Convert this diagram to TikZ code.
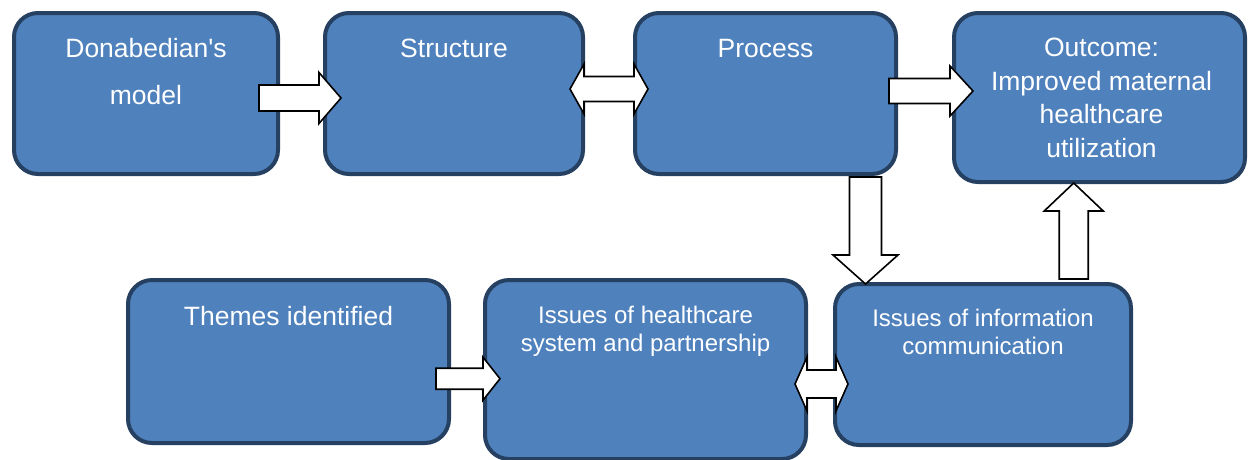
\documentclass[tikz,border=0pt]{standalone}
\usepackage{fontspec}
\setmainfont{Liberation Sans}[Ligatures=TeXOff]
\usetikzlibrary{calc}

\definecolor{boxfill}{HTML}{4F81BD}
\definecolor{boxline}{HTML}{254061}

\tikzset{
    box/.style={draw=boxline, fill=boxfill, line width=4pt, rounded corners=24pt, inner sep=0pt},
    bigtext/.style={text=white, align=center, inner sep=0pt, anchor=base, font=\fontsize{26.5}{33.5}\selectfont},
    smalltext/.style={bigtext, font=\fontsize{24}{28}\selectfont},
    fatarrow/.style={draw=black, fill=white, line width=1.6pt},
}

% tail, tip, shaft half width, head half width, head length
\newcommand\blockarrow[5]{
    \coordinate (ba-h) at ($(#2)!#5!(#1)$);
    \draw[fatarrow]
        ($(#1)!#3!90:(#2)$) -- ($(ba-h)!#3!90:(#2)$) -- ($(ba-h)!#4!90:(#2)$) -- (#2)
        -- ($(ba-h)!#4!-90:(#2)$) -- ($(ba-h)!#3!-90:(#2)$) -- ($(#1)!#3!-90:(#2)$) -- cycle;
}
\newcommand\twowayarrow[5]{
    \coordinate (ba-ha) at ($(#1)!#5!(#2)$);
    \coordinate (ba-hb) at ($(#2)!#5!(#1)$);
    \draw[fatarrow]
        (#1) -- ($(ba-ha)!#4!90:(#2)$) -- ($(ba-ha)!#3!90:(#2)$) -- ($(ba-hb)!#3!90:(#2)$)
        -- ($(ba-hb)!#4!90:(#2)$) -- (#2) -- ($(ba-hb)!#4!-90:(#2)$) -- ($(ba-hb)!#3!-90:(#2)$)
        -- ($(ba-ha)!#3!-90:(#2)$) -- ($(ba-ha)!#4!-90:(#2)$) -- cycle;
}

\begin{document}
\begin{tikzpicture}[x=1pt, y=-1pt]
    \useasboundingbox (0,0) rectangle (1248,459);

    \node[box, minimum width=264pt, minimum height=161pt] (donabedian) at (146,93.5) {};
    \node[box, minimum width=258pt, minimum height=161pt] (structure) at (454,93.5) {};
    \node[box, minimum width=261pt, minimum height=161pt] (process) at (765.5,93.5) {};
    \node[box, minimum width=291pt, minimum height=169pt] (outcome) at (1099.5,97.5) {};

    \node[box, minimum width=321pt, minimum height=163pt] (themes) at (288.5,361.5) {};
    \node[box, minimum width=321pt, minimum height=179pt] (healthsys) at (645.5,369.5) {};
    \node[box, minimum width=296pt, minimum height=161pt] (infocomm) at (983,364.5) {};

    % base anchor sits on the last line
    \node[bigtext, font=\fontsize{26.5}{46.5}\selectfont] (donabedian-text) at ([shift={(0,93)}]donabedian.north) {Donabedian's\\model};
    \node[bigtext] (structure-text) at ([shift={(0,46.5)}]structure.north) {Structure};
    \node[bigtext] (process-text) at ([shift={(0,46.5)}]process.north) {Process};
    \node[bigtext] (outcome-text) at ([shift={(2,146)}]outcome.north) {Outcome:\\Improved maternal\\healthcare\\utilization};
    \node[bigtext] (themes-text) at ([shift={(0,47)}]themes.north) {Themes identified};
    \node[smalltext] (healthsys-text) at ([shift={(0,73.5)}]healthsys.north) {Issues of healthcare\\system and partnership};
    \node[smalltext] (infocomm-text) at ([shift={(0,72.5)}]infocomm.north) {Issues of information\\communication};

    \coordinate (a1-tail) at ([shift={(-21,4.5)}]donabedian.east);
    \coordinate (a1-tip) at ([shift={(18,4.5)}]structure.west);
    \coordinate (a2-left) at ([shift={(-15,-4.5)}]structure.east);
    \coordinate (a2-right) at ([shift={(15,-4.5)}]process.west);
    \coordinate (a3-tail) at ([shift={(-9,-2.5)}]process.east);
    \coordinate (a3-tip) at ([shift={(21,-6.5)}]outcome.west);
    \coordinate (a4-tail) at ([shift={(100,1)}]process.south);
    \coordinate (a4-tip) at ([shift={(-117.5,2)}]infocomm.north);
    \coordinate (a5-tail) at ([shift={(90.7,-3)}]infocomm.north);
    \coordinate (a5-tip) at ([shift={(-25.8,-1)}]outcome.south);
    \coordinate (a6-tail) at ([shift={(-15,17.2)}]themes.east);
    \coordinate (a6-tip) at ([shift={(17,9.2)}]healthsys.west);
    \coordinate (a7-left) at ([shift={(-13,14.5)}]healthsys.east);
    \coordinate (a7-right) at ([shift={(15,19.5)}]infocomm.west);

    \blockarrow{a1-tail}{a1-tip}{13pt}{25.5pt}{22pt}
    \twowayarrow{a2-left}{a2-right}{12.5pt}{25pt}{14pt}
    \blockarrow{a3-tail}{a3-tip}{12.5pt}{25pt}{23pt}
    \blockarrow{a4-tail}{a4-tip}{16pt}{32.5pt}{29pt}
    \blockarrow{a5-tail}{a5-tip}{14.5pt}{29.5pt}{28pt}
    \blockarrow{a6-tail}{a6-tip}{10.5pt}{21.5pt}{17pt}
    \twowayarrow{a7-left}{a7-right}{14pt}{27pt}{12pt}
\end{tikzpicture}
\end{document}
